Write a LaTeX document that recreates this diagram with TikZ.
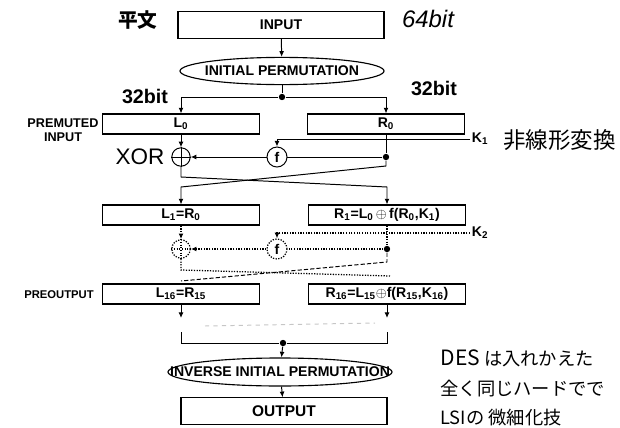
\documentclass[tikz,border=0pt]{standalone}
\usepackage{fontspec}
\setmainfont{Liberation Sans}
\newfontfamily\jpfont{Noto Sans CJK JP}
\usetikzlibrary{arrows.meta,positioning,shapes.geometric}

\begin{document}
\begin{tikzpicture}[x=0.025cm,y=-0.025cm,line width=0.7pt]
  \tikzstyle{blk}=[draw,thick,minimum width=3.93cm,minimum height=0.5cm,inner sep=0pt,
    font=\fontsize{10}{11}\selectfont\bfseries]
  \tikzstyle{big}=[blk,minimum width=5.15cm,minimum height=0.68cm]
  \tikzstyle{perm}=[draw,thick,ellipse,minimum width=5.1cm,minimum height=0.68cm,inner sep=0pt]
  \tikzstyle{xo}=[draw,circle,minimum size=0.46cm,inner sep=0pt]
  \tikzstyle{fn}=[draw,circle,minimum size=0.5cm,inner sep=0pt,font=\fontsize{10}{11}\selectfont\bfseries]
  \tikzstyle{ar}=[-{Latex[length=4pt,width=3.5pt]}]
  \tikzstyle{dt}=[densely dotted,line width=0.9pt]
  \tikzstyle{dotc}=[circle,fill,inner sep=1.6pt]
  \tikzstyle{lbl}=[font=\fontsize{9}{10}\selectfont\bfseries,align=center]
  \tikzstyle{key}=[anchor=west,inner sep=1pt,font=\fontsize{10}{11}\selectfont\bfseries]
  \tikzstyle{hand}=[font=\fontsize{17}{18}\selectfont\itshape]
  \tikzstyle{jp}=[font=\fontsize{13}{15}\selectfont\jpfont]

  \useasboundingbox (0,0) rectangle (620,428);

  % input and initial permutation
  \node[big] (in) at (281,25) {INPUT};
  \node[perm,label={center:\fontsize{10}{11}\selectfont\bfseries INITIAL PERMUTATION}] (ip) at (282,71) {};
  \node[dotc] (j1) at (282,97) {};
  \draw[ar] (in) -- (ip);
  \draw (ip) -- (j1);

  % round 1
  \node[blk] (l0) at (181,124) {L\textsubscript{0}};
  \node[blk] (r0) at (386,124) {R\textsubscript{0}};
  \draw[ar] (j1) -| (l0);
  \draw[ar] (j1) -| (r0);
  \node[xo] (x1) at (181,157) {};
  \draw (x1.north) -- (x1.south) (x1.west) -- (x1.east);
  \node[fn] (f1) at (277,157) {f};
  \node[dotc] (d1) at (386,157) {};
  \node[key] (k1) at (470,139) {K\textsubscript{1}};
  \draw[ar] (k1.west) -| (f1);
  \draw (r0) -- (d1);
  \draw (d1) -- (f1);
  \draw[ar] (f1) -- (x1);
  \draw[ar] (l0) -- (x1);

  % swap
  \coordinate (c1) at (181,177);
  \coordinate (c2) at (387,187);
  \coordinate (c3) at (386,166);
  \coordinate (c4) at (181,187);
  \node[blk] (l1) at (181,215) {L\textsubscript{1}=R\textsubscript{0}};
  \node[blk] (r1) at (387,215) {R\textsubscript{1}=L\textsubscript{0}$\,\oplus\,$f(R\textsubscript{0},K\textsubscript{1})};
  \draw[ar] (x1) -- (c1) -- (c2) -- (r1);
  \draw[ar] (d1) -- (c3) -- (c4) -- (l1);

  % round 2 (dotted)
  \node[xo,dt] (x2) at (181,249) {};
  \draw[dt] (x2.north) -- (x2.south) (x2.west) -- (x2.east);
  \node[fn,dt] (f2) at (277,249) {f};
  \node[dotc] (d2) at (387,249) {};
  \node[key] (k2) at (470,233) {K\textsubscript{2}};
  \draw[dt,ar] (k2.west) -| (f2);
  \draw[dt,ar] (l1) -- (x2);
  \draw[dt] (r1) -- (d2);
  \draw[dt] (d2) -- (f2);
  \draw[dt,ar] (f2) -- (x2);
  \coordinate (c5) at (181,270);
  \coordinate (c6) at (390,276);
  \coordinate (c7) at (387,262);
  \coordinate (c8) at (181,281);
  \draw[dt] (x2) -- (c5) -- (c6);
  \draw[dash pattern=on 3pt off 1.5pt] (d2) -- (c7) -- (c8);

  % preoutput
  \node[blk] (l16) at (181,294) {L\textsubscript{16}=R\textsubscript{15}};
  \node[blk] (r16) at (387,294) {R\textsubscript{16}=L\textsubscript{15}$\oplus$f(R\textsubscript{15},K\textsubscript{16})};
  \coordinate (c9) at (181,318);
  \coordinate (c10) at (387,318);
  \draw[ar] (l16) -- (c9);
  \draw[ar] (r16) -- (c10);
  \coordinate (c11) at (205,326);
  \coordinate (c12) at (375,323);
  \draw[gray!45,dashed] (c11) -- (c12);
  \coordinate (c13) at (181,332);
  \coordinate (c14) at (387,332);
  \node[dotc] (j2) at (283,343) {};
  \draw (c13) |- (j2) -| (c14);

  % output
  \node[perm,minimum width=5.6cm,minimum height=0.7cm,
    label={center:\fontsize{10}{11}\selectfont\bfseries INVERSE INITIAL PERMUTATION}] (iip) at (280,372) {};
  \node[big,minimum height=0.66cm,font=\fontsize{11}{12}\selectfont\bfseries] (out) at (284,411) {OUTPUT};
  \draw[ar] (j2) -- (iip);
  \draw[ar] (iip) -- (out);

  % side labels
  \node[lbl] (pin) at (63,130) {PREMUTED\\INPUT};
  \node[lbl,font=\fontsize{8}{9}\selectfont\bfseries] (pout) at (59,295) {PREOUTPUT};

  % handwritten notes
  \node[jp,font=\fontsize{14}{16}\selectfont\jpfont\bfseries] (hw1) at (138,20) {平文};
  \node[hand] (hw2) at (428,19) {64bit};
  \node[hand,font=\fontsize{14}{16}\selectfont\bfseries] (hw3) at (145,96) {32bit};
  \node[hand,font=\fontsize{14}{16}\selectfont\bfseries] (hw4) at (434,88) {32bit};
  \node[hand,font=\fontsize{16}{18}\selectfont] (hw5) at (140,157) {XOR};
  \node[jp,anchor=west,font=\fontsize{16}{18}\selectfont\jpfont] (hw6) at (498,140) {非線形変換};
  \node[jp,anchor=west,align=left,inner sep=0pt] (hw7) at (440,388)
    {{\fontsize{15}{16}\selectfont\itshape DES} は入れかえた\\[6pt]全く同じハードでで\\[6pt]LSIの 微細化技};
\end{tikzpicture}
\end{document}
